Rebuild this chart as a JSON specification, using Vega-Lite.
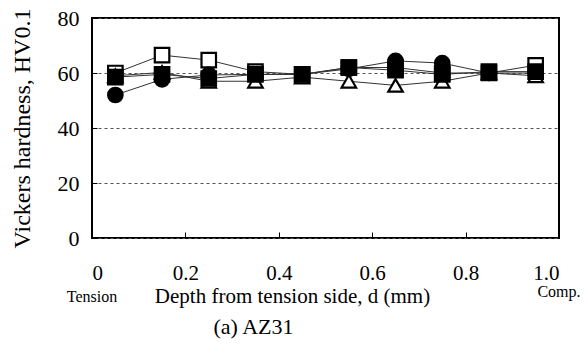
{
  "$schema": "https://vega.github.io/schema/vega-lite/v6.json",
  "width": 467,
  "height": 220,
  "autosize": {"type": "none"},
  "padding": {"left": 92, "top": 18, "right": 29, "bottom": 114},
  "background": "white",
  "config": {
    "font": "Liberation Serif",
    "view": {"stroke": "black", "strokeWidth": 2}
  },
  "title": {
    "text": "(a) AZ31",
    "orient": "bottom",
    "fontSize": 22,
    "fontWeight": "normal",
    "color": "black",
    "dx": -72,
    "offset": 11
  },
  "datasets": {
    "hv": [
      {"d": 0.05, "hv": 60.0, "s": "A"}, {"d": 0.15, "hv": 66.5, "s": "A"}, {"d": 0.25, "hv": 64.7, "s": "A"}, {"d": 0.35, "hv": 60.5, "s": "A"}, {"d": 0.45, "hv": 59.5, "s": "A"},
      {"d": 0.55, "hv": 62.0, "s": "A"}, {"d": 0.65, "hv": 62.0, "s": "A"}, {"d": 0.75, "hv": 60.0, "s": "A"}, {"d": 0.85, "hv": 60.0, "s": "A"}, {"d": 0.95, "hv": 62.8, "s": "A"},
      {"d": 0.05, "hv": 52.0, "s": "B"}, {"d": 0.15, "hv": 57.7, "s": "B"}, {"d": 0.25, "hv": 59.3, "s": "B"}, {"d": 0.35, "hv": 59.5, "s": "B"}, {"d": 0.45, "hv": 59.5, "s": "B"},
      {"d": 0.55, "hv": 61.5, "s": "B"}, {"d": 0.65, "hv": 64.4, "s": "B"}, {"d": 0.75, "hv": 63.6, "s": "B"}, {"d": 0.85, "hv": 60.0, "s": "B"}, {"d": 0.95, "hv": 60.0, "s": "B"},
      {"d": 0.05, "hv": 59.0, "s": "C"}, {"d": 0.15, "hv": 60.2, "s": "C"}, {"d": 0.25, "hv": 57.0, "s": "C"}, {"d": 0.35, "hv": 57.0, "s": "C"}, {"d": 0.45, "hv": 58.5, "s": "C"},
      {"d": 0.55, "hv": 57.0, "s": "C"}, {"d": 0.65, "hv": 55.5, "s": "C"}, {"d": 0.75, "hv": 57.0, "s": "C"}, {"d": 0.85, "hv": 60.0, "s": "C"}, {"d": 0.95, "hv": 59.0, "s": "C"},
      {"d": 0.05, "hv": 58.5, "s": "D"}, {"d": 0.15, "hv": 59.5, "s": "D"}, {"d": 0.25, "hv": 58.0, "s": "D"}, {"d": 0.35, "hv": 59.5, "s": "D"}, {"d": 0.45, "hv": 59.5, "s": "D"},
      {"d": 0.55, "hv": 62.0, "s": "D"}, {"d": 0.65, "hv": 61.0, "s": "D"}, {"d": 0.75, "hv": 59.5, "s": "D"}, {"d": 0.85, "hv": 60.5, "s": "D"}, {"d": 0.95, "hv": 60.5, "s": "D"}
    ],
    "ends": [
      {"d": 0, "hv": -21.3, "t": "Tension"},
      {"d": 1, "hv": -19.8, "t": "Comp."}
    ]
  },
  "encoding": {
    "x": {
      "field": "d",
      "type": "quantitative",
      "scale": {"domain": [0, 1], "nice": false, "zero": false},
      "axis": {
        "values": [0, 0.2, 0.4, 0.6, 0.8, 1.0],
        "labelExpr": "datum.value == 0 ? '0' : datum.value == 1 ? '1.0' : format(datum.value, '.1f')",
        "title": "Depth from tension side,  d  (mm)",
        "titleFontSize": 21,
        "titleFontWeight": "normal",
        "titleColor": "black",
        "titleX": 200,
        "titlePadding": 2,
        "labelFontSize": 21,
        "labelColor": "black",
        "labelPadding": 30,
        "tickSize": -6,
        "tickColor": "black",
        "tickWidth": 1,
        "domain": false,
        "grid": false
      }
    },
    "y": {
      "field": "hv",
      "type": "quantitative",
      "scale": {"domain": [0, 80], "nice": false},
      "axis": {
        "values": [0, 20, 40, 60, 80],
        "title": "Vickers hardness, HV0.1",
        "titleFontSize": 24,
        "titleFontWeight": "normal",
        "titleColor": "black",
        "titlePadding": 23,
        "labelFontSize": 22,
        "labelColor": "black",
        "labelPadding": 18,
        "tickSize": -5,
        "tickColor": "black",
        "domain": false,
        "grid": true,
        "gridColor": "#555555",
        "gridDash": [3, 3],
        "gridWidth": 1
      }
    }
  },
  "layer": [
    {
      "data": {"name": "hv"},
      "mark": {"type": "line", "color": "#333333", "strokeWidth": 1},
      "encoding": {"detail": {"field": "s"}}
    },
    {
      "data": {"name": "hv"},
      "mark": {"type": "point", "filled": true, "stroke": "black", "strokeWidth": 2.2, "size": 210, "opacity": 1},
      "encoding": {
        "shape": {"field": "s", "scale": {"domain": ["A", "B", "C", "D"], "range": ["square", "circle", "triangle-up", "square"]}, "legend": null},
        "fill": {"field": "s", "scale": {"domain": ["A", "B", "C", "D"], "range": ["white", "black", "white", "black"]}, "legend": null},
        "order": {"field": "s", "sort": "ascending"}
      }
    },
    {
      "data": {"name": "ends"},
      "mark": {"type": "text", "fontSize": 16, "color": "black", "baseline": "middle", "align": "center"},
      "encoding": {"text": {"field": "t"}}
    }
  ]
}
